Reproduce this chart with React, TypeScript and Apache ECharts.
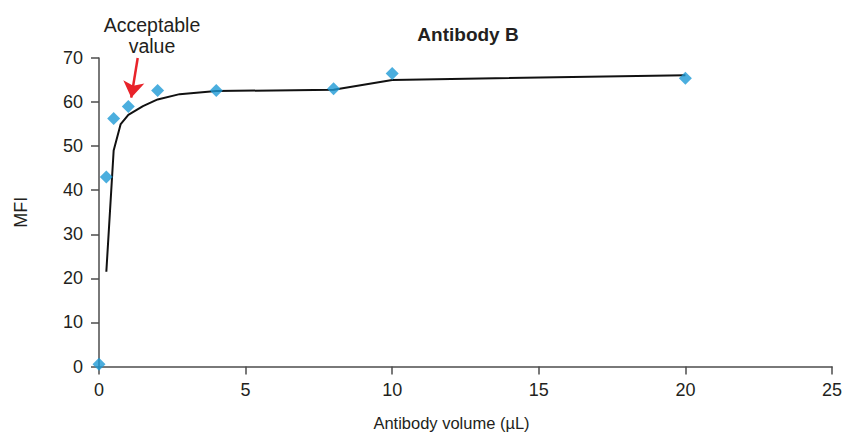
import React, { useEffect, useRef } from "react";
import * as echarts from "echarts";

const volumes = [0, 0.25, 0.5, 1, 2, 4, 8, 10, 20];
const mfiValues = [0.5, 43.0, 56.3, 59.0, 62.6, 62.6, 63.0, 66.5, 65.4];

const fitX = [0.25, 0.5, 0.74, 1, 1.5, 2, 2.75, 4, 8, 10, 20];
const fitY = [21.5, 49.0, 55.0, 57.1, 59.1, 60.6, 61.8, 62.5, 62.8, 65.0, 66.1];

const arrowFrom = [1.32, 70.0];
const arrowTo = [1.1, 61.0];

const xTicks = [0, 5, 10, 15, 20, 25];
const yTicks = [0, 10, 20, 30, 40, 50, 60, 70];

const FONT = "'Liberation Sans', Arial, Helvetica, sans-serif";
const TEXT = "#231f20";
const AXIS = "#4d4d4d";

export default function App() {
  const ref = useRef<HTMLDivElement>(null);
  useEffect(() => {
    document.body.style.margin = "0";
    if (!ref.current) return;
    const chart = echarts.init(ref.current, undefined, { renderer: "svg" });
    chart.setOption({
      animation: false,
      backgroundColor: "#ffffff",
      textStyle: { fontFamily: FONT },
      title: {
        text: "Antibody B",
        left: 463,
        top: 20,
        textAlign: "center",
        textStyle: { fontFamily: FONT, fontSize: 19, fontWeight: "bold", color: TEXT },
      },
      graphic: [
        {
          type: "text",
          x: 152,
          y: 14,
          style: {
            text: "Acceptable\nvalue",
            align: "center",
            verticalAlign: "top",
            fill: TEXT,
            font: `19.5px ${FONT}`,
            lineHeight: 21,
          },
        },
      ],
      grid: {
        left: 99,
        right: 12,
        top: 58,
        bottom: 68.5,
        outerBoundsMode: "none",
        containLabel: false,
      },
      xAxis: {
        type: "value",
        min: xTicks[0],
        max: xTicks[xTicks.length - 1],
        interval: 5,
        name: "Antibody volume (µL)",
        nameLocation: "middle",
        nameGap: 48,
        nameTextStyle: { fontFamily: FONT, fontSize: 16.5, color: TEXT, padding: [0, 28, 0, 0] },
        axisLine: { show: true, onZero: false, lineStyle: { color: AXIS, width: 1.5 } },
        axisTick: { show: true, length: 8, inside: false, lineStyle: { color: AXIS, width: 1.5 } },
        axisLabel: { fontFamily: FONT, fontSize: 18, color: TEXT, margin: 14 },
        splitLine: { show: false },
      },
      yAxis: {
        type: "value",
        min: yTicks[0],
        max: yTicks[yTicks.length - 1],
        interval: 10,
        name: "MFI",
        nameLocation: "middle",
        nameGap: 69,
        nameRotate: 90,
        nameTextStyle: { fontFamily: FONT, fontSize: 18, color: TEXT },
        axisLine: { show: true, lineStyle: { color: AXIS, width: 1.5 } },
        axisTick: { show: true, length: 8, inside: false, lineStyle: { color: AXIS, width: 1.5 } },
        axisLabel: { fontFamily: FONT, fontSize: 18, color: TEXT, margin: 16 },
        splitLine: { show: false },
      },
      series: [
        {
          type: "line",
          name: "fit",
          data: fitX.map((x, i) => [x, fitY[i]]),
          showSymbol: false,
          symbol: "none",
          smooth: false,
          lineStyle: { color: "#111111", width: 2 },
          z: 2,
          markLine: {
            silent: true,
            symbol: ["none", "arrow"],
            symbolSize: 16,
            label: { show: false },
            lineStyle: { color: "#e8232a", width: 2.5, type: "solid" },
            emphasis: { disabled: true },
            data: [[{ coord: arrowFrom }, { coord: arrowTo }]],
          },
        },
        {
          type: "scatter",
          name: "MFI",
          data: volumes.map((x, i) => [x, mfiValues[i]]),
          symbol: "diamond",
          symbolSize: 13,
          itemStyle: { color: "#1e9ad6" },
          clip: false,
          z: 3,
        },
      ],
    });
    return () => chart.dispose();
  }, []);
  return <div ref={ref} style={{ width: 844, height: 435 }} />;
}
